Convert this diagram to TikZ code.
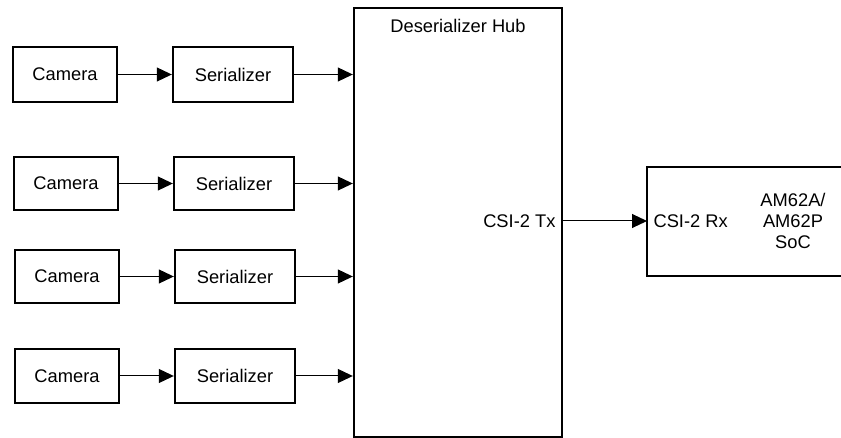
\documentclass[tikz,border=0pt]{standalone}
\usepackage{fontspec}
\setmainfont{Liberation Sans}
\usetikzlibrary{arrows.meta}
\begin{document}
\begin{tikzpicture}[x=1pt,y=-1pt,
  font=\fontsize{18.3}{21}\selectfont,
  blockbox/.style={draw,line width=2.4pt,inner sep=0pt},
  link/.style={line width=1pt,-{Triangle[length=15pt,width=14pt]}}]
\useasboundingbox (0,0) rectangle (841,438);
% camera and serializer blocks
\foreach \i/\ya/\yb/\dx in {1/47/102/0,2/157/210/1,3/250/303/2,4/349/403/2}{
  \node[blockbox,minimum width=104pt,minimum height={\yb-\ya}] (cam\i)
    at ({65+\dx},{(\ya+\yb)/2}) {Camera};
  \node[blockbox,minimum width=120pt,minimum height={\yb-\ya}] (ser\i)
    at ({233+\dx},{(\ya+\yb)/2}) {Serializer};
}
% deserializer hub
\node[blockbox,minimum width=208pt,minimum height=429pt] (hub) at (458,222.5) {};
\node[anchor=north] (hubtitle) at (458,16) {Deserializer Hub};
\node[anchor=east] (tx) at (559,221) {CSI-2 Tx};
% SoC (extends past the right edge)
\coordinate (socnw) at (647,167);
\coordinate (socsw) at (647,276);
\coordinate (socne) at (845,167);
\coordinate (socse) at (845,276);
\draw[line width=2.4pt] (socne) -- (socnw) -- (socsw) -- (socse);
\node[anchor=west] (rx) at (650,221) {CSI-2 Rx};
\node[align=center] (soc) at (793,221) {AM62A/\\AM62P\\SoC};
% links
\foreach \i in {1,...,4}{
  \draw[link] (cam\i.east) -- (ser\i.west);
  \draw[link] (ser\i.east) -- (ser\i.east -| hub.west);
}
\draw[link] (hub.east |- tx) -- (socnw |- tx);
\end{tikzpicture}
\end{document}
